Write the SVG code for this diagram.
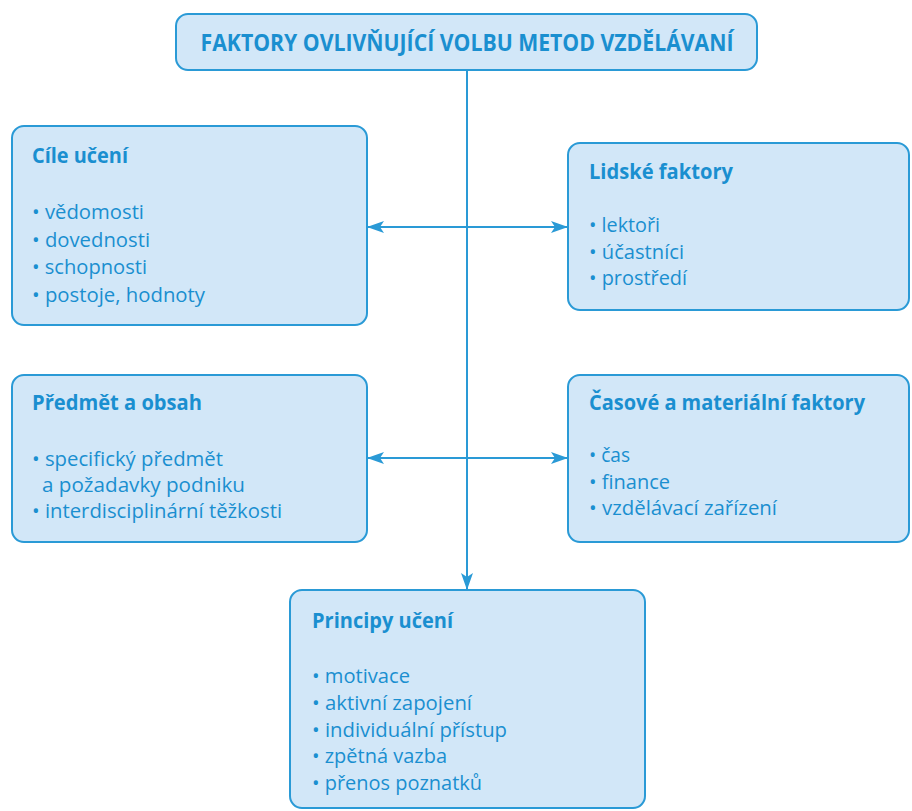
<svg xmlns="http://www.w3.org/2000/svg" width="912" height="811" viewBox="0 0 912 811">
<style>
.box{fill:#d2e7f8;stroke:#2a9ad6;stroke-width:2}
text{font-family:"Open Sans","Noto Sans","DejaVu Sans",sans-serif;fill:#1a8fd0}
.main{font-size:24px;font-weight:700}
.hd{font-size:21px;font-weight:700}
.it{font-size:20.5px}
.conn{stroke:#2a9ad6;stroke-width:2;fill:none}
</style>
<defs>
<marker id="ah" viewBox="0 0 17 12" refX="16" refY="6" markerWidth="17" markerHeight="12" markerUnits="userSpaceOnUse" orient="auto-start-reverse">
<path d="M0,0 L17,6 L0,12 L4,6 Z" fill="#2a9ad6"/>
</marker>
</defs>
<rect width="912" height="811" fill="#ffffff"/>
<g id="connectors">
<line class="conn" x1="467" y1="70" x2="467" y2="589" marker-end="url(#ah)"/>
<line class="conn" x1="368" y1="227" x2="567" y2="227" marker-start="url(#ah)" marker-end="url(#ah)"/>
<line class="conn" x1="368" y1="458" x2="567" y2="458" marker-start="url(#ah)" marker-end="url(#ah)"/>
</g>
<g id="title">
<rect class="box" x="176" y="14" width="581" height="56" rx="12"/>
<text class="main" x="467" y="51" text-anchor="middle" textLength="533" lengthAdjust="spacingAndGlyphs">FAKTORY OVLIVŇUJÍCÍ VOLBU METOD VZDĚLÁVANÍ</text>
</g>
<g id="cile">
<rect class="box" x="12" y="126" width="355" height="199" rx="12"/>
<text class="hd" x="32" y="163" textLength="96" lengthAdjust="spacingAndGlyphs">Cíle učení</text>
<text class="it" x="32" y="219" textLength="112" lengthAdjust="spacingAndGlyphs">• vědomosti</text>
<text class="it" x="32" y="246.5" textLength="118" lengthAdjust="spacingAndGlyphs">• dovednosti</text>
<text class="it" x="32" y="274" textLength="115" lengthAdjust="spacingAndGlyphs">• schopnosti</text>
<text class="it" x="32" y="301.5" textLength="173" lengthAdjust="spacingAndGlyphs">• postoje, hodnoty</text>
</g>
<g id="lidske">
<rect class="box" x="568" y="143" width="341" height="167" rx="12"/>
<text class="hd" x="589" y="179" textLength="144" lengthAdjust="spacingAndGlyphs">Lidské faktory</text>
<text class="it" x="589" y="232" textLength="71" lengthAdjust="spacingAndGlyphs">• lektoři</text>
<text class="it" x="589" y="258.5" textLength="95" lengthAdjust="spacingAndGlyphs">• účastníci</text>
<text class="it" x="589" y="285" textLength="98" lengthAdjust="spacingAndGlyphs">• prostředí</text>
</g>
<g id="predmet">
<rect class="box" x="12" y="375" width="355" height="167" rx="12"/>
<text class="hd" x="32" y="410" textLength="170" lengthAdjust="spacingAndGlyphs">Předmět a obsah</text>
<text class="it" x="32" y="466" textLength="191" lengthAdjust="spacingAndGlyphs">• specifický předmět</text>
<text class="it" x="42" y="492" textLength="203" lengthAdjust="spacingAndGlyphs">a požadavky podniku</text>
<text class="it" x="32" y="518" textLength="250" lengthAdjust="spacingAndGlyphs">• interdisciplinární těžkosti</text>
</g>
<g id="casove">
<rect class="box" x="568" y="375" width="341" height="167" rx="12"/>
<text class="hd" x="589" y="410" textLength="276" lengthAdjust="spacingAndGlyphs">Časové a materiální faktory</text>
<text class="it" x="589" y="462" textLength="41" lengthAdjust="spacingAndGlyphs">• čas</text>
<text class="it" x="589" y="488.5" textLength="81" lengthAdjust="spacingAndGlyphs">• finance</text>
<text class="it" x="589" y="515" textLength="188" lengthAdjust="spacingAndGlyphs">• vzdělávací zařízení</text>
</g>
<g id="principy">
<rect class="box" x="290" y="590" width="355" height="218" rx="12"/>
<text class="hd" x="312" y="628" textLength="141" lengthAdjust="spacingAndGlyphs">Principy učení</text>
<text class="it" x="312" y="683" textLength="98" lengthAdjust="spacingAndGlyphs">• motivace</text>
<text class="it" x="312" y="710" textLength="160" lengthAdjust="spacingAndGlyphs">• aktivní zapojení</text>
<text class="it" x="312" y="737" textLength="195" lengthAdjust="spacingAndGlyphs">• individuální přístup</text>
<text class="it" x="312" y="763" textLength="135" lengthAdjust="spacingAndGlyphs">• zpětná vazba</text>
<text class="it" x="312" y="790" textLength="170" lengthAdjust="spacingAndGlyphs">• přenos poznatků</text>
</g>
</svg>
